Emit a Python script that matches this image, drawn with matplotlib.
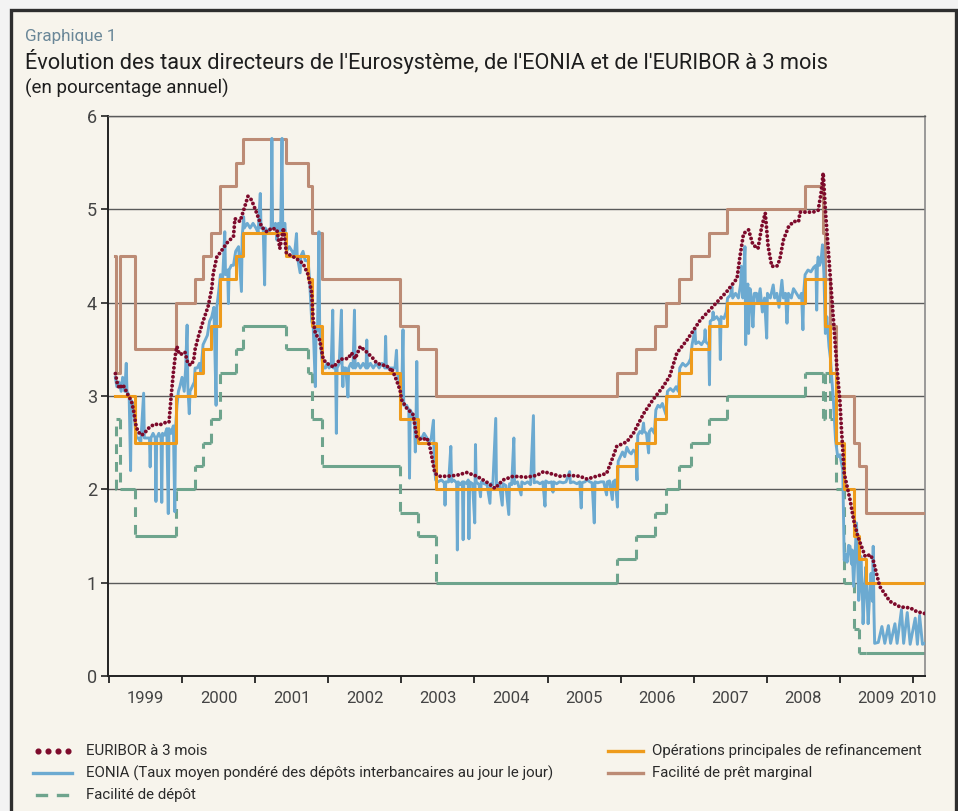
import numpy as np
import pandas as pd
import matplotlib
matplotlib.use("Agg")
import matplotlib.pyplot as plt
from matplotlib.lines import Line2D
from matplotlib.patches import Rectangle

plt.rcParams['font.family'] = ['Roboto', 'DejaVu Sans']

# Policy rates: change dates and levels
policy_dates = ['1999-01-01', '1999-01-04', '1999-01-22', '1999-04-09', '1999-11-05',
                '2000-02-04', '2000-03-17', '2000-04-28', '2000-06-09', '2000-09-01',
                '2000-10-06', '2001-05-11', '2001-08-31', '2001-09-18', '2001-11-09',
                '2002-12-06', '2003-03-07', '2003-06-06', '2005-12-06', '2006-03-08',
                '2006-06-15', '2006-08-09', '2006-10-11', '2006-12-13', '2007-03-14',
                '2007-06-13', '2008-07-09', '2008-10-08', '2008-10-15', '2008-11-12',
                '2008-12-10', '2009-01-21', '2009-03-11', '2009-04-08', '2009-05-13']
refi = [3.00, 3.00, 3.00, 2.50, 3.00, 3.25, 3.50, 3.75, 4.25, 4.50, 4.75, 4.50, 4.25,
        3.75, 3.25, 2.75, 2.50, 2.00, 2.25, 2.50, 2.75, 3.00, 3.25, 3.50, 3.75, 4.00,
        4.25, 4.25, 3.75, 3.25, 2.50, 2.00, 1.50, 1.25, 1.00]
deposit = [2.00, 2.75, 2.00, 1.50, 2.00, 2.25, 2.50, 2.75, 3.25, 3.50, 3.75, 3.50, 3.25,
           2.75, 2.25, 1.75, 1.50, 1.00, 1.25, 1.50, 1.75, 2.00, 2.25, 2.50, 2.75, 3.00,
           3.25, 2.75, 3.25, 2.75, 2.00, 1.00, 0.50, 0.25, 0.25]
marginal = [4.50, 3.25, 4.50, 3.50, 4.00, 4.25, 4.50, 4.75, 5.25, 5.50, 5.75, 5.50, 5.25,
            4.75, 4.25, 3.75, 3.50, 3.00, 3.25, 3.50, 3.75, 4.00, 4.25, 4.50, 4.75, 5.00,
            5.25, 4.75, 4.25, 3.75, 3.00, 3.00, 2.50, 2.25, 1.75]
end_year = 2010.17

# EONIA (decimal year, %)
eonia_t = [1999.00, 1999.02, 1999.05, 1999.08, 1999.10, 1999.13, 1999.15, 1999.16, 1999.19, 1999.21,
           1999.22, 1999.25, 1999.27, 1999.29, 1999.32, 1999.35, 1999.39, 1999.40, 1999.44, 1999.47,
           1999.48, 1999.49, 1999.52, 1999.55, 1999.56, 1999.57, 1999.60, 1999.63, 1999.64, 1999.65,
           1999.68, 1999.71, 1999.73, 1999.74, 1999.77, 1999.80, 1999.82, 1999.83, 1999.85, 1999.87,
           1999.89, 1999.92, 1999.95, 1999.97, 1999.99, 2000.00, 2000.02, 2000.03, 2000.06, 2000.09,
           2000.10, 2000.13, 2000.16, 2000.18, 2000.21, 2000.24, 2000.27, 2000.30, 2000.33, 2000.36,
           2000.39, 2000.40, 2000.43, 2000.45, 2000.48, 2000.51, 2000.52, 2000.55, 2000.56, 2000.57,
           2000.60, 2000.63, 2000.66, 2000.70, 2000.74, 2000.75, 2000.77, 2000.78, 2000.82, 2000.86,
           2000.90, 2000.94, 2000.97, 2001.00, 2001.01, 2001.04, 2001.06, 2001.07, 2001.11, 2001.15,
           2001.16, 2001.17, 2001.21, 2001.23, 2001.25, 2001.28, 2001.30, 2001.31, 2001.34, 2001.36,
           2001.40, 2001.44, 2001.47, 2001.50, 2001.51, 2001.55, 2001.56, 2001.59, 2001.62, 2001.66,
           2001.68, 2001.71, 2001.73, 2001.76, 2001.77, 2001.79, 2001.81, 2001.82, 2001.85, 2001.87,
           2001.90, 2001.92, 2001.95, 2001.98, 2002.00, 2002.01, 2002.04, 2002.05, 2002.06, 2002.09,
           2002.12, 2002.13, 2002.14, 2002.15, 2002.18, 2002.21, 2002.22, 2002.25, 2002.28, 2002.30,
           2002.31, 2002.35, 2002.38, 2002.42, 2002.46, 2002.47, 2002.48, 2002.52, 2002.56, 2002.60,
           2002.64, 2002.68, 2002.72, 2002.73, 2002.74, 2002.78, 2002.82, 2002.86, 2002.88, 2002.89,
           2002.93, 2002.95, 2002.97, 2002.98, 2003.02, 2003.05, 2003.06, 2003.07, 2003.10, 2003.13,
           2003.14, 2003.15, 2003.16, 2003.17, 2003.20, 2003.23, 2003.26, 2003.30, 2003.33, 2003.36,
           2003.39, 2003.40, 2003.42, 2003.45, 2003.50, 2003.54, 2003.55, 2003.56, 2003.60, 2003.63,
           2003.64, 2003.67, 2003.71, 2003.72, 2003.73, 2003.76, 2003.79, 2003.80, 2003.81, 2003.85,
           2003.87, 2003.88, 2003.89, 2003.93, 2003.96, 2003.97, 2003.98, 2004.02, 2004.04, 2004.05,
           2004.09, 2004.13, 2004.17, 2004.18, 2004.21, 2004.25, 2004.26, 2004.30, 2004.34, 2004.35,
           2004.39, 2004.43, 2004.44, 2004.47, 2004.50, 2004.51, 2004.55, 2004.60, 2004.61, 2004.65,
           2004.69, 2004.73, 2004.77, 2004.78, 2004.82, 2004.86, 2004.90, 2004.93, 2004.94, 2004.98,
           2005.02, 2005.04, 2005.05, 2005.09, 2005.13, 2005.18, 2005.22, 2005.27, 2005.28, 2005.32,
           2005.37, 2005.41, 2005.43, 2005.44, 2005.48, 2005.51, 2005.55, 2005.58, 2005.61, 2005.62,
           2005.66, 2005.70, 2005.74, 2005.78, 2005.79, 2005.82, 2005.86, 2005.87, 2005.90, 2005.93,
           2005.94, 2005.97, 2006.00, 2006.03, 2006.06, 2006.09, 2006.12, 2006.15, 2006.18, 2006.20,
           2006.21, 2006.24, 2006.27, 2006.29, 2006.30, 2006.33, 2006.36, 2006.37, 2006.40, 2006.44,
           2006.46, 2006.49, 2006.52, 2006.55, 2006.58, 2006.60, 2006.62, 2006.66, 2006.70, 2006.74,
           2006.77, 2006.79, 2006.83, 2006.87, 2006.91, 2006.94, 2006.96, 2007.00, 2007.01, 2007.05,
           2007.09, 2007.13, 2007.14, 2007.15, 2007.19, 2007.20, 2007.21, 2007.24, 2007.25, 2007.26,
           2007.30, 2007.34, 2007.35, 2007.36, 2007.40, 2007.43, 2007.45, 2007.49, 2007.51, 2007.52,
           2007.56, 2007.60, 2007.63, 2007.64, 2007.66, 2007.69, 2007.70, 2007.71, 2007.73, 2007.74,
           2007.76, 2007.78, 2007.80, 2007.82, 2007.85, 2007.87, 2007.90, 2007.93, 2007.96, 2007.99,
           2008.00, 2008.04, 2008.08, 2008.10, 2008.13, 2008.16, 2008.20, 2008.22, 2008.25, 2008.27,
           2008.29, 2008.33, 2008.36, 2008.40, 2008.44, 2008.47, 2008.49, 2008.50, 2008.52, 2008.56,
           2008.60, 2008.64, 2008.67, 2008.68, 2008.69, 2008.70, 2008.72, 2008.74, 2008.76, 2008.78,
           2008.80, 2008.82, 2008.85, 2008.87, 2008.89, 2008.91, 2008.94, 2008.97, 2009.00, 2009.04,
           2009.06, 2009.08, 2009.10, 2009.12, 2009.14, 2009.16, 2009.17, 2009.19, 2009.21, 2009.23,
           2009.25, 2009.26, 2009.28, 2009.29, 2009.31, 2009.32, 2009.34, 2009.36, 2009.38, 2009.39,
           2009.41, 2009.43, 2009.45, 2009.46, 2009.47, 2009.48, 2009.53, 2009.58, 2009.62, 2009.67,
           2009.70, 2009.76, 2009.79, 2009.85, 2009.88, 2009.93, 2009.97, 2010.04, 2010.07, 2010.10,
           2010.14, 2010.17]
eonia_v = [3.20, 3.10, 3.15, 3.05, 3.20, 3.05, 3.35, 3.05, 3.00, 2.20,
           2.95, 2.90, 2.70, 2.55, 2.55, 2.50, 3.03, 2.55, 2.55, 2.55,
           2.24, 2.55, 2.60, 2.55, 1.87, 2.55, 2.60, 2.55, 1.86, 2.60,
           2.58, 2.65, 1.74, 2.65, 2.60, 2.68, 1.76, 2.65, 2.90, 3.05,
           3.10, 3.20, 3.05, 3.30, 3.76, 3.10, 2.81, 3.05, 3.10, 3.15,
           3.30, 3.30, 3.35, 3.25, 3.55, 3.60, 3.65, 3.80, 3.85, 3.95,
           2.90, 3.95, 4.15, 4.30, 4.25, 4.76, 4.30, 4.35, 3.99, 4.35,
           4.40, 4.40, 4.55, 4.60, 4.12, 4.70, 4.92, 4.80, 4.85, 4.80,
           4.85, 4.80, 4.75, 5.17, 4.80, 4.80, 4.19, 4.80, 4.75, 4.80,
           5.76, 4.80, 4.85, 4.67, 4.85, 4.75, 5.76, 4.80, 4.85, 4.55,
           4.60, 4.55, 4.50, 4.74, 4.50, 4.32, 4.50, 4.55, 4.45, 4.45,
           4.25, 3.80, 3.75, 3.10, 3.75, 3.70, 4.76, 3.70, 3.40, 3.30,
           3.30, 3.35, 3.30, 3.35, 3.92, 3.30, 3.30, 2.60, 3.30, 3.35,
           3.92, 3.30, 3.10, 3.30, 3.30, 2.99, 3.30, 3.35, 3.30, 3.92,
           3.30, 3.35, 3.30, 3.35, 3.30, 3.60, 3.30, 3.35, 3.30, 3.35,
           3.30, 3.35, 3.30, 3.64, 3.30, 3.30, 3.30, 3.30, 3.49, 3.25,
           3.10, 2.95, 3.71, 2.90, 2.90, 2.85, 2.12, 2.85, 2.80, 2.70,
           2.40, 2.75, 3.37, 2.60, 2.55, 2.55, 2.60, 2.55, 2.50, 2.55,
           2.74, 2.30, 2.10, 2.08, 2.10, 2.07, 1.83, 2.08, 2.08, 2.46,
           2.08, 2.10, 2.07, 1.35, 2.08, 2.05, 2.08, 1.46, 2.08, 2.06,
           2.10, 1.47, 2.08, 2.06, 1.64, 2.48, 2.08, 2.05, 1.92, 2.08,
           2.06, 2.05, 1.85, 2.06, 2.05, 2.76, 2.05, 2.06, 1.83, 2.06,
           2.04, 1.73, 2.06, 2.05, 2.55, 2.06, 2.08, 1.94, 2.08, 2.06,
           2.08, 2.05, 2.79, 2.07, 2.08, 2.06, 2.08, 1.82, 2.09, 2.07,
           2.08, 1.97, 2.08, 2.06, 2.08, 2.07, 2.08, 2.19, 2.07, 2.08,
           2.06, 2.08, 1.80, 2.07, 2.08, 2.10, 2.08, 2.07, 1.64, 2.08,
           2.07, 2.08, 2.08, 1.94, 2.08, 2.09, 1.89, 2.08, 2.10, 1.81,
           2.30, 2.35, 2.40, 2.35, 2.45, 2.40, 2.38, 2.42, 2.40, 2.10,
           2.58, 2.62, 2.60, 2.71, 2.62, 2.60, 2.39, 2.62, 2.65, 2.60,
           2.85, 2.90, 2.88, 2.92, 2.85, 2.80, 3.05, 3.08, 3.05, 3.10,
           3.05, 3.30, 3.35, 3.32, 3.35, 3.40, 3.55, 3.71, 3.56, 3.58,
           3.55, 3.60, 3.71, 3.58, 3.55, 3.12, 3.80, 3.82, 3.90, 3.82,
           3.85, 3.80, 3.39, 3.85, 3.83, 3.90, 4.05, 4.08, 4.17, 4.05,
           4.10, 4.05, 4.20, 4.39, 4.05, 4.60, 3.55, 4.10, 4.20, 3.67,
           4.15, 4.05, 3.74, 4.10, 4.10, 4.00, 4.15, 3.90, 4.05, 3.62,
           4.10, 4.05, 4.19, 4.05, 4.10, 3.95, 4.24, 4.05, 4.10, 3.78,
           4.10, 4.05, 4.15, 4.10, 4.05, 4.10, 3.71, 4.10, 4.30, 4.35,
           4.33, 4.38, 4.40, 3.92, 4.40, 4.49, 4.40, 4.45, 4.62, 4.30,
           3.67, 3.85, 3.53, 3.40, 3.17, 2.96, 2.53, 2.35, 2.37, 2.21,
           1.24, 1.30, 1.22, 1.40, 1.39, 1.20, 1.35, 0.96, 1.30, 1.64,
           1.10, 0.81, 1.00, 1.28, 0.90, 0.56, 0.90, 1.17, 0.75, 0.56,
           0.85, 1.10, 0.80, 1.39, 0.70, 0.35, 0.36, 0.53, 0.35, 0.54,
           0.35, 0.56, 0.35, 0.71, 0.35, 0.68, 0.34, 0.62, 0.34, 0.65,
           0.34, 0.35]

# EURIBOR 3 mois (decimal year, %)
euribor_t = [1999.00, 1999.03, 1999.06, 1999.09, 1999.12, 1999.15, 1999.18, 1999.22, 1999.25, 1999.28,
             1999.31, 1999.36, 1999.40, 1999.45, 1999.50, 1999.55, 1999.60, 1999.65, 1999.70, 1999.74,
             1999.77, 1999.80, 1999.83, 1999.85, 1999.88, 1999.92, 1999.96, 2000.00, 2000.04, 2000.08,
             2000.10, 2000.15, 2000.21, 2000.28, 2000.33, 2000.35, 2000.40, 2000.44, 2000.54, 2000.63,
             2000.65, 2000.72, 2000.77, 2000.83, 2000.88, 2000.95, 2001.02, 2001.09, 2001.16, 2001.23,
             2001.27, 2001.32, 2001.36, 2001.46, 2001.52, 2001.59, 2001.66, 2001.71, 2001.73, 2001.76,
             2001.82, 2001.87, 2001.92, 2002.01, 2002.10, 2002.15, 2002.21, 2002.26, 2002.31, 2002.38,
             2002.47, 2002.56, 2002.61, 2002.70, 2002.74, 2002.79, 2002.81, 2002.88, 2002.93, 2002.95,
             2003.02, 2003.11, 2003.16, 2003.23, 2003.30, 2003.34, 2003.41, 2003.48, 2003.57, 2003.71,
             2003.85, 2003.99, 2004.12, 2004.24, 2004.35, 2004.49, 2004.68, 2004.82, 2004.91, 2005.00,
             2005.14, 2005.27, 2005.41, 2005.51, 2005.64, 2005.78, 2005.87, 2005.92, 2006.06, 2006.15,
             2006.29, 2006.42, 2006.56, 2006.65, 2006.75, 2006.89, 2007.07, 2007.25, 2007.44, 2007.58,
             2007.62, 2007.67, 2007.74, 2007.80, 2007.87, 2007.92, 2007.97, 2008.01, 2008.06, 2008.13,
             2008.17, 2008.22, 2008.29, 2008.36, 2008.43, 2008.45, 2008.63, 2008.70, 2008.74, 2008.77,
             2008.80, 2008.85, 2008.91, 2008.96, 2009.00, 2009.02, 2009.06, 2009.14, 2009.19, 2009.25,
             2009.35, 2009.42, 2009.46, 2009.55, 2009.69, 2009.83, 2009.97, 2010.06, 2010.17]
euribor_v = [3.24, 3.12, 3.08, 3.12, 3.10, 3.05, 3.00, 2.95, 2.85, 2.70,
             2.62, 2.58, 2.60, 2.65, 2.68, 2.70, 2.69, 2.70, 2.72, 2.72,
             3.00, 3.25, 3.45, 3.53, 3.45, 3.45, 3.47, 3.35, 3.33, 3.38,
             3.50, 3.65, 3.80, 3.96, 4.15, 4.31, 4.49, 4.53, 4.64, 4.71,
             4.90, 4.87, 4.99, 5.14, 5.10, 4.96, 4.81, 4.76, 4.80, 4.78,
             4.58, 4.80, 4.53, 4.49, 4.46, 4.42, 4.30, 4.10, 3.81, 3.67,
             3.60, 3.39, 3.35, 3.31, 3.39, 3.40, 3.40, 3.46, 3.40, 3.53,
             3.47, 3.40, 3.35, 3.33, 3.33, 3.28, 3.30, 3.17, 3.06, 2.96,
             2.87, 2.80, 2.56, 2.53, 2.55, 2.46, 2.17, 2.14, 2.14, 2.15,
             2.18, 2.14, 2.08, 2.01, 2.10, 2.14, 2.13, 2.15, 2.19, 2.17,
             2.14, 2.15, 2.14, 2.11, 2.14, 2.17, 2.35, 2.46, 2.51, 2.60,
             2.81, 2.96, 3.10, 3.21, 3.46, 3.60, 3.81, 3.96, 4.12, 4.26,
             4.49, 4.74, 4.78, 4.62, 4.58, 4.81, 4.96, 4.60, 4.39, 4.39,
             4.46, 4.67, 4.81, 4.87, 4.87, 4.97, 4.97, 4.99, 5.17, 5.39,
             4.99, 4.46, 3.81, 3.30, 2.95, 2.67, 2.17, 1.89, 1.67, 1.49,
             1.28, 1.30, 1.24, 0.96, 0.80, 0.74, 0.73, 0.69, 0.67]

tick_labels = ['1999', '2000', '2001', '2002', '2003', '2004', '2005', '2006', '2007', '2008', '2009', '2010']

CREAM = '#F7F4EC'
C_EURIBOR = '#7D0A2B'
C_EONIA = '#6CAAD1'
C_DEPOT = '#6EA48D'
C_REFI = '#EE9B1C'
C_MARG = '#BC8B75'
W, H = 958, 811


def dec(d):
    d = pd.Timestamp(d)
    return d.year + (d.dayofyear - 1) / 365.25


pt = np.array([dec(d) for d in policy_dates])
t_steps = np.append(pt, end_year)

fig = plt.figure(figsize=(W / 100, H / 100), dpi=100)
fig.patch.set_facecolor('#F3F3F3')
frame = Rectangle((10.5 / W, -0.05), 945 / W, 1.05 - 10.5 / H, transform=fig.transFigure,
                  facecolor=CREAM, edgecolor='#2E2E2E', linewidth=2.4, zorder=-5)
fig.add_artist(frame)

ax = fig.add_axes([108 / W, 1 - 676 / H, 817 / W, 560 / H])
ax.set_facecolor('none')

# deposit facility: flat parts solid, jumps dashed
dep = np.array(deposit)
ax.hlines(dep, t_steps[:-1], t_steps[1:], color=C_DEPOT, lw=2.2, zorder=2)
ax.vlines(t_steps[1:-1], dep[:-1], dep[1:], color=C_DEPOT, lw=2.2, linestyles=(0, (3.2, 2.6)), zorder=2)

ax.step(t_steps, np.append(marginal, marginal[-1]), where='post', color=C_MARG, lw=2.2, zorder=3)
ax.plot(eonia_t, eonia_v, color=C_EONIA, lw=2.1, zorder=4)
ax.step(t_steps, np.append(refi, refi[-1]), where='post', color=C_REFI, lw=2.2, zorder=5)
ax.plot(euribor_t, euribor_v, color=C_EURIBOR, lw=2.8, linestyle=(0, (0.01, 1.15)),
        dash_capstyle='round', zorder=6)

ax.set_ylim(0, 6)
ax.set_xlim(1998.898, 2010.175)
ax.set_yticks(range(7))
ax.yaxis.grid(True, color='#5A5A5A', lw=1.0)
ax.set_axisbelow(True)

major = np.linspace(1998.91, 2010.01, 12)
ax.set_xticks(major)
ax.set_xticklabels([])
mids = list((major[:-1] + major[1:]) / 2) + [2010.08]
ax.set_xticks(mids, minor=True)
ax.set_xticklabels(tick_labels, minor=True)
ax.tick_params(axis='x', which='major', length=5, width=1.3, color='#222222', direction='out')
ax.tick_params(axis='x', which='minor', length=0, pad=11, labelsize=12, labelcolor='#444444')
ax.tick_params(axis='y', length=5, width=1.2, color='#222222', pad=3, labelsize=13, labelcolor='#444444')

for s in ['left', 'bottom']:
    ax.spines[s].set_color('#222222')
    ax.spines[s].set_linewidth(1.4)
ax.spines['right'].set_color('#8A8A8A')
ax.spines['right'].set_linewidth(1.2)
ax.spines['top'].set_color('#5A5A5A')
ax.spines['top'].set_linewidth(1.0)

# titles
fig.text(25 / W, 1 - 37 / H, 'Graphique 1', fontsize=12.3, color='#6A8798', va='center')
fig.text(25 / W, 1 - 61 / H, "Évolution des taux directeurs de l'Eurosystème, de l'EONIA et de l'EURIBOR à 3 mois",
         fontsize=15.7, color='#1E1E1E', va='center')
fig.text(25 / W, 1 - 88 / H, '(en pourcentage annuel)', fontsize=13.5, color='#1E1E1E', va='center')


# legend
def fx(x):
    return x / W


def fy(y):
    return 1 - y / H


fig.add_artist(Line2D([fx(x) for x in np.linspace(38, 68, 4)], [fy(751)] * 4, color=C_EURIBOR,
                      linestyle='none', marker='o', markersize=3.4))
fig.add_artist(Line2D([fx(33), fx(72)], [fy(773)] * 2, color=C_EONIA, lw=2.4))
fig.add_artist(Line2D([fx(37), fx(46)], [fy(795)] * 2, color=C_DEPOT, lw=2.4))
fig.add_artist(Line2D([fx(58), fx(67)], [fy(795)] * 2, color=C_DEPOT, lw=2.4))
fig.add_artist(Line2D([fx(608), fx(643)], [fy(751)] * 2, color=C_REFI, lw=2.4))
fig.add_artist(Line2D([fx(608), fx(643)], [fy(773)] * 2, color=C_MARG, lw=2.4))

leg_kw = dict(fontsize=10.8, color='#2A2A2A', va='center')
fig.text(fx(86), fy(751), 'EURIBOR à 3 mois', **leg_kw)
fig.text(fx(86), fy(773), 'EONIA (Taux moyen pondéré des dépôts interbancaires au jour le jour)', **leg_kw)
fig.text(fx(86), fy(795), 'Facilité de dépôt', **leg_kw)
fig.text(fx(652), fy(751), 'Opérations principales de refinancement', **leg_kw)
fig.text(fx(652), fy(773), 'Facilité de prêt marginal', **leg_kw)

fig.savefig('out.png', dpi=100, facecolor=fig.get_facecolor())
